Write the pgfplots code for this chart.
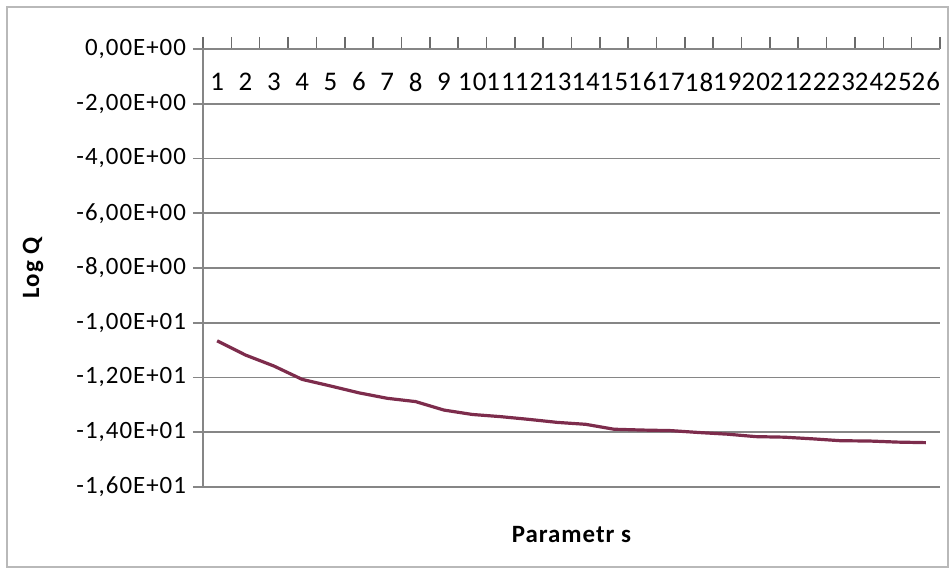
\documentclass[border=0pt]{standalone}
\usepackage{fontspec}
\setmainfont{Carlito}[LetterSpace=4]
\usepackage{pgfplots}
\pgfplotsset{compat=1.18}

\definecolor{series}{RGB}{125,44,76}
\definecolor{gridgray}{RGB}{134,134,134}

\begin{document}
\begin{tikzpicture}
% picture is 951 x 569 px, 1 px = 0.5bp
\useasboundingbox (0,0) rectangle (475.5bp,-284.5bp);
\draw[gray!55, line width=0.8bp] (3.5bp,-3.5bp) rectangle (474bp,-283.5bp);
\begin{axis}[
    at={(101.5bp,-24.5bp)}, anchor=north west,
    scale only axis,
    width=368.5bp, height=219bp,
    xmin=0.5, xmax=26.5,
    ymin=-16, ymax=0,
    axis x line=top,
    axis y line=left,
    axis line style={gridgray, line width=0.8bp, -},
    x axis line style={-},
    y axis line style={-},
    xtick={1,...,26},
    xticklabels={1,2,3,4,5,6,7,8,9,10,11,12,13,14,15,16,17,18,19,20,21,22,23,24,25,26},
    major x tick style={draw=none},
    minor xtick={0.5,1.5,...,26.5},
    minor x tick style={gridgray!80!black, line width=0.8bp},
    minor tick length=6bp,
    xticklabel style={anchor=center, yshift=-21.5bp, font=\fontsize{13.5}{15}\selectfont},
    ytick={-16,-14,...,0},
    yticklabels={{-1,60E+01},{-1,40E+01},{-1,20E+01},{-1,00E+01},{-8,00E+00},{-6,00E+00},{-4,00E+00},{-2,00E+00},{0,00E+00}},
    yticklabel style={font=\fontsize{12.5}{14}\selectfont},
    y tick style={gridgray, line width=0.8bp},
    tick align=outside,
    major tick length=5bp,
    ymajorgrids,
    grid style={gridgray, line width=0.8bp},
    xlabel={Parametr s},
    xlabel style={at={(axis description cs:0.5,-0.1096)}, anchor=center, font=\bfseries\fontsize{12.5}{14}\selectfont},
    ylabel={Log Q},
    ylabel style={at={(axis description cs:-0.2307,0.5)}, anchor=center, font=\bfseries\fontsize{12.5}{14}\selectfont},
    clip=false,
]
\addplot[series, line width=1.6bp, no marks] coordinates {
(1,-10.66) (2,-11.18) (3,-11.58) (4,-12.07) (5,-12.31) (6,-12.56)
(7,-12.76) (8,-12.88) (9,-13.19) (10,-13.35) (11,-13.43) (12,-13.53)
(13,-13.64) (14,-13.71) (15,-13.89) (16,-13.92) (17,-13.94) (18,-14.01)
(19,-14.07) (20,-14.16) (21,-14.18) (22,-14.24) (23,-14.31) (24,-14.32)
(25,-14.36) (26,-14.38)
};
\end{axis}
\end{tikzpicture}
\end{document}
